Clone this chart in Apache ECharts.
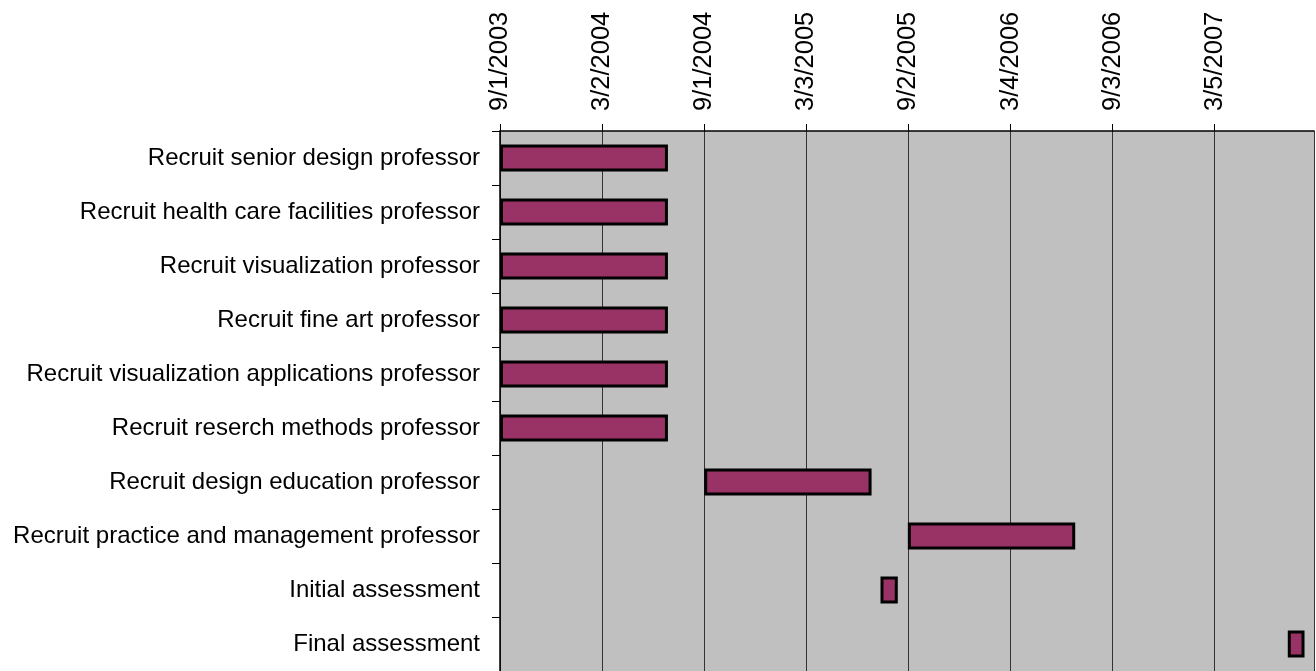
<!DOCTYPE html>
<html>
<head>
<meta charset="utf-8">
<title>Recruitment schedule</title>
<script src="https://cdn.jsdelivr.net/npm/echarts@6.0.0/dist/echarts.min.js"></script>
<style>
    html, body { margin: 0; padding: 0; background: #fff; }
    #chart { width: 1316px; height: 671px; }
</style>
</head>
<body>
<div id="chart"></div>
<script>
// tasks, top to bottom
var tasks = [
    'Recruit senior design professor',
    'Recruit health care facilities professor',
    'Recruit visualization professor',
    'Recruit fine art professor',
    'Recruit visualization applications professor',
    'Recruit reserch methods professor',
    'Recruit design education professor',
    'Recruit practice and management professor',
    'Initial assessment',
    'Final assessment'
];
var startDates = [
    '2003-09-01', '2003-09-01', '2003-09-01', '2003-09-01', '2003-09-01',
    '2003-09-01', '2004-09-01', '2005-09-01', '2005-07-14', '2007-07-14'
];
var endDates = [
    '2004-06-28', '2004-06-28', '2004-06-28', '2004-06-28', '2004-06-28',
    '2004-06-28', '2005-06-28', '2006-06-28', '2005-08-14', '2007-08-13'
];
// axis labels, one every 183 days from 9/1/2003
var tickLabels = ['9/1/2003', '3/2/2004', '9/1/2004', '3/3/2005', '9/2/2005', '3/4/2006', '9/3/2006', '3/5/2007'];

var DAY = 86400000;
var origin = Date.UTC(2003, 8, 1);
function dayOffset(s) {
    var p = s.split('-');
    return Math.round((Date.UTC(+p[0], +p[1] - 1, +p[2]) - origin) / DAY);
}

var baseData = [], spanData = [];
for (var i = 0; i < tasks.length; i++) {
    var a = dayOffset(startDates[i]);
    baseData.push(a);
    spanData.push(dayOffset(endDates[i]) - a);
}

var font = "'Liberation Sans', Arial, sans-serif";
var myChart = echarts.init(document.getElementById('chart'));
var option = {
    animation: false,
    grid: {
        left: 500, top: 131, width: 814, height: 540,
        show: true,
        backgroundColor: '#c0c0c0',
        borderWidth: 0,
        containLabel: false,
        outerBoundsMode: 'none'
    },
    xAxis: {
        type: 'value',
        position: 'top',
        min: 0,
        max: 1459,
        interval: 183,
        axisLine: { show: true, lineStyle: { color: '#000', width: 1.5 } },
        axisTick: { show: true, length: 7, lineStyle: { color: '#000' } },
        splitLine: { show: true, lineStyle: { color: '#333', width: 1 } },
        axisLabel: {
            rotate: -90,
            margin: 20,
            showMaxLabel: false,
            color: '#000',
            fontSize: 25.5,
            fontFamily: font,
            formatter: function (v) {
                if (v % 183 !== 0) return '';
                return tickLabels[Math.round(v / 183)] || '';
            }
        }
    },
    yAxis: {
        type: 'category',
        inverse: true,
        data: tasks,
        axisLine: { show: true, lineStyle: { color: '#000', width: 1.5 } },
        axisTick: { show: true, length: 8, lineStyle: { color: '#000' } },
        splitLine: { show: false },
        axisLabel: {
            margin: 20,
            color: '#000',
            fontSize: 24,
            fontFamily: font,
            padding: [3, 0, 0, 0]
        }
    },
    series: [
        {
            name: 'start',
            type: 'bar',
            stack: 'gantt',
            silent: true,
            barWidth: 27,
            itemStyle: { color: 'transparent', borderWidth: 0 },
            data: baseData
        },
        {
            name: 'duration',
            type: 'bar',
            stack: 'gantt',
            barWidth: 27,
            itemStyle: { color: '#993366', borderColor: '#000', borderWidth: 3 },
            data: spanData
        }
    ]
};
myChart.setOption(option);
</script>
</body>
</html>
